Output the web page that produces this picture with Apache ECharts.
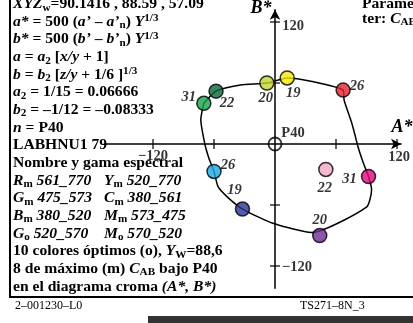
<!DOCTYPE html>
<html><head><meta charset="utf-8">
<script src="https://cdn.jsdelivr.net/npm/echarts@6/dist/echarts.min.js"></script>
<style>html,body{margin:0;padding:0;background:#fff;overflow:hidden}#c{width:413px;height:323px}</style>
</head><body><div id="c"></div>
<script>
// boundary curve of the optimal colours (A*, B*)
const curveA = [-70, -58, -34, -8, 12, 34, 67, 68, 76, 82, 87, 92, 95, 90, 36, -2, -32, -47, -56, -60, -65, -69, -73, -70];
const curveB = [40, 52, 58, 60, 65, 62, 53, 43, 19, -4, -19, -32, -45, -62, -87, -78, -64, -52, -42, -27, -14, 0, 24, 40];
// marked colours
const pointNames = ['31', '22', '20', '19', '26', '31', '22', '20', '19', '26'];
const pointA = [-70, -58, -8, 12, 67, 92, 50, 44, -32, -60];
const pointB = [40, 52, 60, 65, 53, -32, -25, -90, -64, -27];
const pointColors = ['#17a34a', '#0a6636', '#c3d42e', '#f6e80a', '#e4202a', '#e0087c', '#f2a6c6', '#6e2c91', '#27348f', '#1aa7e6'];
const pointLabelOffsets = [[-15, -6], [11, 12], [-1, 15], [6, 15], [14, -4], [-19, 3], [-1, 19], [0, -15], [-8, -19], [14, -6]];
// axis ticks
const xTicks = [-120, -60, 60, 120];
const yTicks = [120, 60, -60, -120];
const xTickLabels = ['−120', '', '', '120'];
const yTickLabels = ['120', '', '', '−120'];

const serif = 'Liberation Serif';
const SX = 1.115;
const base = {fontFamily: serif, fontWeight: 'bold', fontSize: 14, lineHeight: 17, fill: '#000'};
const rich = {
  b: Object.assign({}, base),
  i: Object.assign({}, base, {fontStyle: 'italic'}),
  s: Object.assign({}, base, {fontSize: 10, lineHeight: 10, verticalAlign: 'bottom'}),
  p: Object.assign({}, base, {fontSize: 10, lineHeight: 10, verticalAlign: 'top'})
};
function txt(x, y, text) {
  return {type: 'text', x: x, y: y, z: 10, scaleX: SX,
    style: {text: text, rich: rich, verticalAlign: 'middle', align: 'left', font: 'bold 14px ' + serif}};
}
const lines = [
  '{i|XYZ}{s|w}{b|=90.1416 , 88.59 , 57.09}',
  '{i|a*}{b| = 500 (}{i|a’}{b| – }{i|a’}{s|n}{b|) }{i|Y}{p|1/3}',
  '{i|b*}{b| = 500 (}{i|b’}{b| – }{i|b’}{s|n}{b|) }{i|Y}{p|1/3}',
  '{i|a}{b| = }{i|a}{s|2}{b| [}{i|x/y}{b| + 1]}',
  '{i|b}{b| = }{i|b}{s|2}{b| [}{i|z/y}{b| + 1/6 ]}{p|1/3}',
  '{i|a}{s|2}{b| = 1/15 = 0.06666}',
  '{i|b}{s|2}{b| = –1/12 = –0.08333}',
  '{i|n}{b| = P40}',
  '{b|LABHNU1 79}',
  '{b|Nombre y gama espectral}',
  '{i|R}{s|m}{i| 561_770}',
  '{i|G}{s|m}{i| 475_573}',
  '{i|B}{s|m}{i| 380_520}',
  '{i|G}{s|o}{i| 520_570}',
  '{b|10 colores óptimos (o), }{i|Y}{s|W}{b|=88,6}',
  '{b|8 de máximo (m) }{i|C}{s|AB}{b| bajo P40}',
  '{b|en el diagrama croma }{i|(A*, B*)}'
];
const col2 = {10: '{i|Y}{s|m}{i| 520_770}', 11: '{i|C}{s|m}{i| 380_561}', 12: '{i|M}{s|m}{i| 573_475}', 13: '{i|M}{s|o}{i| 570_520}'};
const graphics = [];
lines.forEach((t, k) => {
  const y = 4.5 + k * 17.65;
  graphics.push(txt(13, y, t));
  if (col2[k]) graphics.push(txt(104, y, col2[k]));
});
graphics.push(txt(362, 4, '{b|Parame-}'));
graphics.push(txt(362, 19, '{b|ter: }{i|C}{s|AB}'));
graphics.push({type: 'text', x: 15, y: 306, style: {text: '2–001230–L0', font: '12px ' + serif, fill: '#000', verticalAlign: 'middle'}});
graphics.push({type: 'text', x: 300, y: 306, style: {text: 'TS271–8N_3', font: '12px ' + serif, fill: '#000', verticalAlign: 'middle'}});
graphics.push({type: 'text', x: 402, y: 127, style: {text: 'A*', font: 'italic bold 18px ' + serif, fill: '#000', align: 'center', verticalAlign: 'middle'}});
graphics.push({type: 'text', x: 261, y: 8, style: {text: 'B*', font: 'italic bold 18px ' + serif, fill: '#000', align: 'center', verticalAlign: 'middle'}});
graphics.push({type: 'line', shape: {x1: 10, y1: 0, x2: 10, y2: 297}, style: {stroke: '#000', lineWidth: 2}});
graphics.push({type: 'line', shape: {x1: 9, y1: 297, x2: 413, y2: 297}, style: {stroke: '#000', lineWidth: 2}});
graphics.push({type: 'rect', shape: {x: 148, y: 316, width: 265, height: 7}, style: {fill: '#333'}});

const k = 122 / 120, ox = 275, oy = 144;
const xMin = -168, xMax = 124, yMin = -142, yMax = 132;
const chart = echarts.init(document.getElementById('c'), null, {renderer: 'canvas'});
const lblStyle = {fontFamily: serif, fontWeight: 'bold', fontSize: 14.5, color: '#000'};
chart.setOption({
  animation: false,
  backgroundColor: '#fff',
  grid: {left: ox + xMin * k, top: oy - yMax * k, width: (xMax - xMin) * k, height: (yMax - yMin) * k, containLabel: false},
  xAxis: {type: 'value', min: xMin, max: xMax, splitLine: {show: false}, axisTick: {show: false}, axisLabel: {show: false},
    axisLine: {onZero: true, symbol: ['none', 'arrow'], symbolSize: [8, 10], lineStyle: {color: '#000', width: 1.5}}},
  yAxis: {type: 'value', min: yMin, max: yMax, splitLine: {show: false}, axisTick: {show: false}, axisLabel: {show: false},
    axisLine: {onZero: true, symbol: ['none', 'arrow'], symbolSize: [8, 10], lineStyle: {color: '#000', width: 1.5}}},
  graphic: graphics,
  series: [
    {type: 'line', data: curveA.map((a, i) => [a, curveB[i]]), showSymbol: false, symbol: 'none', smooth: 0.2,
      lineStyle: {color: '#000', width: 1.5}, z: 3, silent: true},
    {type: 'scatter', data: xTicks.map((a, i) => ({value: [a, 0], label: {show: !!xTickLabels[i], formatter: xTickLabels[i], offset: i === 0 ? [0, 12] : [2, 13]}})),
      symbol: 'rect', symbolSize: [1.5, 10], itemStyle: {color: '#000'}, z: 2,
      label: Object.assign({position: 'inside'}, lblStyle)},
    {type: 'scatter', data: yTicks.map((b, i) => ({value: [0, b], label: {show: !!yTickLabels[i], formatter: yTickLabels[i], offset: i === 0 ? [18, 4] : [22, 1]}})),
      symbol: 'rect', symbolSize: [10, 1.5], itemStyle: {color: '#000'}, z: 2,
      label: Object.assign({position: 'inside'}, lblStyle)},
    {type: 'scatter', data: [{value: [0, 0], label: {show: true, formatter: 'P40', offset: [18, -11]}}],
      symbol: 'circle', symbolSize: 13, itemStyle: {color: 'rgba(0,0,0,0)', borderColor: '#000', borderWidth: 1.8}, z: 4,
      label: Object.assign({position: 'inside'}, lblStyle)},
    {type: 'scatter', symbol: 'circle', symbolSize: 14, z: 5,
      data: pointA.map((a, i) => ({value: [a, pointB[i]], itemStyle: {color: pointColors[i]},
        label: {show: true, formatter: pointNames[i], offset: pointLabelOffsets[i]}})),
      itemStyle: {borderColor: '#000', borderWidth: 1.5},
      label: Object.assign({position: 'inside', fontStyle: 'italic'}, lblStyle)}
  ]
});
</script>
</body></html>
